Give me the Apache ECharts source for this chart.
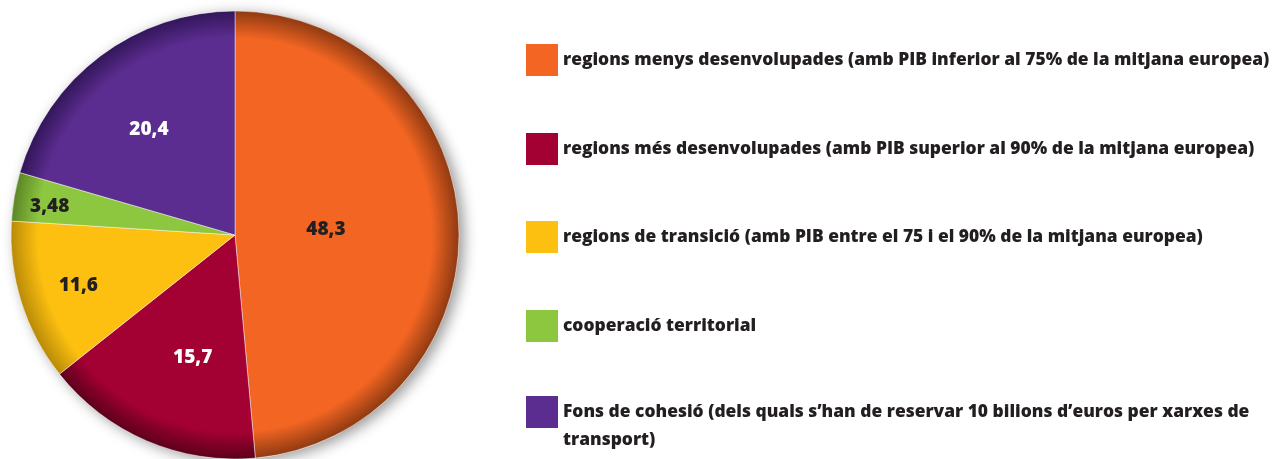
<!DOCTYPE html>
<html>
<head>
<meta charset="utf-8">
<script src="https://cdn.jsdelivr.net/npm/echarts@6/dist/echarts.min.js"></script>
<style>
  html, body { margin: 0; padding: 0; background: #fff; }
  #chart { width: 1272px; height: 459px; }
</style>
</head>
<body>
<div id="chart"></div>
<script>
const names = [
  'regions menys desenvolupades (amb PIB inferior al 75% de la mitjana europea)',
  'regions més desenvolupades (amb PIB superior al 90% de la mitjana europea)',
  'regions de transició (amb PIB entre el 75 i el 90% de la mitjana europea)',
  'cooperació territorial',
  'Fons de cohesió (dels quals s\u2019han de reservar 10 bilions d\u2019euros per xarxes de transport)'
];
const values = [48.3, 15.7, 11.6, 3.48, 20.4];
const colors = ['#f26522', '#a30033', '#fdc010', '#8dc63f', '#5c2d91'];
const edgeColors = ['#8f3a12', '#5c001b', '#b88a08', '#5b8526', '#33165a'];
const labelColors = ['#231f20', '#ffffff', '#231f20', '#231f20', '#ffffff'];
// nudges the inside labels to where the original has them
const labelShift = [[-24, 0], [3, 17], [-47, 16], [-72, -9], [-17, -13]];

const FONT = '"Open Sans", sans-serif';
const cx = 235, cy = 235, R = 224;
const total = values.reduce((a, b) => a + b, 0);

const chart = echarts.init(document.getElementById('chart'));

const legendCenters = [60, 149, 237, 326, 412];
const legends = names.map((n, i) => {
  const last = i === names.length - 1;
  return {
    data: [n],
    orient: 'vertical',
    left: 526,
    top: last ? legendCenters[i] - 42 : legendCenters[i] - 16,
    itemWidth: 32,
    itemHeight: 32,
    itemGap: 0,
    padding: 0,
    icon: 'rect',
    selectedMode: false,
    itemStyle: { color: colors[i], borderWidth: 0 },
    // blank first line keeps the square level with the first line of text
    formatter: last
      ? ' \nFons de cohesió (dels quals s\u2019han de reservar 10 bilions d\u2019euros per xarxes de\ntransport)'
      : '{name}',
    textStyle: {
      fontFamily: FONT,
      fontWeight: 800,
      fontSize: 17.4,
      color: '#231f20',
      lineHeight: 28
    }
  };
});

chart.setOption({
  animation: false,
  legend: legends,
  series: [
    {
      type: 'pie',
      silent: true,
      center: [cx, cy],
      radius: R,
      z: 1,
      label: { show: false },
      labelLine: { show: false },
      itemStyle: {
        color: '#ffffff',
        shadowBlur: 14,
        shadowOffsetX: 5,
        shadowOffsetY: 3,
        shadowColor: 'rgba(0,0,0,0.4)'
      },
      data: [{ value: total, name: '' }]
    },
    {
      type: 'pie',
      center: [cx, cy],
      radius: R,
      startAngle: 90,
      clockwise: true,
      z: 2,
      silent: true,
      labelLine: { show: false },
      label: {
        show: true,
        position: 'inside',
        fontFamily: FONT,
        fontWeight: 800,
        fontSize: 19,
        formatter: p => String(p.value).replace('.', ',')
      },
      labelLayout: p => ({ dx: labelShift[p.dataIndex][0], dy: labelShift[p.dataIndex][1] }),
      data: values.map((v, i) => ({
        value: v,
        name: names[i],
        itemStyle: {
          color: {
            type: 'radial', x: cx, y: cy, r: R, global: true,
            colorStops: [
              { offset: 0, color: colors[i] },
              { offset: 0.88, color: colors[i] },
              { offset: 1, color: edgeColors[i] }
            ]
          },
          borderColor: 'rgba(255,255,255,0.55)',
          borderWidth: 0.8
        },
        label: { color: labelColors[i] }
      }))
    }
  ]
});
</script>
</body>
</html>
